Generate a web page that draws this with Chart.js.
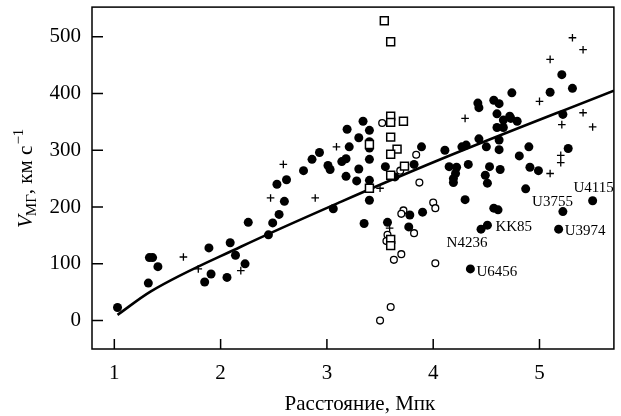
<!DOCTYPE html>
<html>
<head>
<meta charset="utf-8">
<script src="https://cdn.jsdelivr.net/npm/chart.js@4.4.1/dist/chart.umd.min.js"></script>
<style>
  html, body { margin: 0; padding: 0; background: #fff; }
  #wrap { width: 621px; height: 416px; }
</style>
</head>
<body>
<div id="wrap"><canvas id="chartCanvas"></canvas></div>
<script>
// Галактики: расстояние (Мпк) и скорость (км/с)
const xTicks = [1, 2, 3, 4, 5];
const yTicks = [0, 100, 200, 300, 400, 500];

const filled = [
  [1.03, 23], [1.32, 66], [1.33, 111], [1.36, 111], [1.41, 95], [1.85, 68], [1.89, 128],
  [1.91, 82], [2.06, 76], [2.09, 137], [2.14, 115], [2.23, 100], [2.26, 173],
  [2.45, 151], [2.49, 172], [2.55, 187], [2.60, 210], [2.53, 240], [2.62, 248],
  [2.78, 264], [2.86, 284], [2.93, 296], [3.01, 273], [3.03, 266], [3.06, 197],
  [3.14, 280], [3.18, 285], [3.19, 337], [3.21, 306], [3.18, 254], [3.28, 246],
  [3.30, 267], [3.30, 322], [3.34, 351], [3.35, 171],
  [3.40, 335], [3.40, 315], [3.40, 304], [3.40, 284], [3.40, 247], [3.40, 212],
  [3.55, 271], [3.64, 253], [3.57, 173], [3.77, 165], [3.78, 186], [3.82, 275],
  [3.89, 306], [3.90, 191],
  [4.11, 300], [4.15, 271], [4.22, 270], [4.21, 259], [4.19, 250], [4.19, 243],
  [4.27, 306], [4.31, 309], [4.33, 275], [4.30, 213], [4.42, 383], [4.43, 375],
  [4.43, 320], [4.50, 306], [4.53, 271], [4.49, 256], [4.51, 242], [4.57, 388],
  [4.62, 382], [4.60, 364], [4.66, 353], [4.72, 360], [4.73, 356], [4.60, 340],
  [4.66, 340], [4.79, 351], [4.62, 318], [4.62, 301], [4.63, 266], [4.74, 401],
  [4.81, 290], [4.90, 306], [4.91, 270], [4.99, 264], [4.87, 232], [4.57, 198],
  [4.61, 195], [5.10, 402], [5.21, 433], [5.31, 409], [5.22, 363], [5.27, 303]
];

// подписанные галактики
const namedNames = ['U4115', 'U3755', 'KK85', 'U3974', 'N4236', 'U6456'];
const namedPoints = [[5.50, 211], [5.22, 192], [4.51, 168], [5.18, 161], [4.45, 161], [4.35, 91]];

const crosses = [
  [1.65, 112], [1.79, 91], [2.19, 88], [2.47, 216], [2.59, 275], [2.89, 216],
  [3.09, 306], [3.50, 233], [3.59, 163], [4.30, 356], [5.00, 386], [5.10, 460],
  [5.31, 498], [5.41, 477], [5.21, 345], [5.41, 366], [5.50, 341], [5.20, 291],
  [5.20, 278], [5.10, 259]
];

const squares = [
  [3.54, 528], [3.60, 491], [3.60, 360], [3.60, 349], [3.72, 351], [3.60, 323],
  [3.40, 310], [3.66, 302], [3.60, 293], [3.73, 272], [3.60, 256], [3.40, 233],
  [3.60, 143], [3.60, 132]
];

const openCircles = [
  [3.52, 348], [3.84, 292], [3.69, 264], [3.87, 243], [3.72, 194], [3.70, 188],
  [3.82, 154], [4.00, 208], [4.02, 198], [3.57, 151], [3.56, 140], [3.70, 117],
  [3.63, 107], [4.02, 101], [3.60, 24], [3.50, 0]
];

// сглаженная зависимость
const fitCurve = [[1.03, 10], [1.34, 51], [2.19, 130], [3.13, 209], [4.07, 284], [5.70, 405]];

const toXY = arr => arr.map(p => ({ x: p[0], y: p[1] }));

const SERIF = '"Liberation Serif", "Times New Roman", serif';

// смещения подписей относительно точки: dx, dy, выравнивание
const labelPlacement = {
  U4115: [1, -9, 'center'],
  U3755: [10, -6, 'right'],
  KK85: [8, 6, 'left'],
  U3974: [6, 6, 'left'],
  N4236: [-14, 18, 'center'],
  U6456: [6, 7, 'left']
};

const decorPlugin = {
  id: 'decor',
  afterDraw(chart) {
    const { ctx, chartArea: a, scales } = chart;
    ctx.save();
    ctx.strokeStyle = '#000';
    ctx.lineWidth = 1.5;
    ctx.strokeRect(a.left, a.top, a.right - a.left, a.bottom - a.top);

    // засечки внутрь
    ctx.beginPath();
    xTicks.forEach(v => {
      const px = scales.x.getPixelForValue(v);
      ctx.moveTo(px, a.bottom);
      ctx.lineTo(px, a.bottom - 10);
    });
    yTicks.forEach(v => {
      const py = scales.y.getPixelForValue(v);
      ctx.moveTo(a.left, py);
      ctx.lineTo(a.left + 11, py);
    });
    ctx.stroke();

    // подписи галактик
    ctx.fillStyle = '#000';
    ctx.font = '15px ' + SERIF;
    ctx.textBaseline = 'alphabetic';
    namedNames.forEach((name, i) => {
      const [dx, dy, align] = labelPlacement[name];
      const px = scales.x.getPixelForValue(namedPoints[i][0]);
      const py = scales.y.getPixelForValue(namedPoints[i][1]);
      ctx.textAlign = align;
      ctx.fillText(name, px + dx, py + dy);
    });

    // подпись оси X
    ctx.font = '21px ' + SERIF;
    ctx.textAlign = 'center';
    ctx.fillText('Расстояние, Мпк', (a.left + a.right) / 2 + 7, 410);

    // подпись оси Y: V_МГ, км с^-1
    ctx.translate(32, 228);
    ctx.rotate(-Math.PI / 2);
    ctx.textAlign = 'left';
    let x = 0;
    ctx.font = 'italic 21px ' + SERIF;
    ctx.fillText('V', x, 0);
    x += ctx.measureText('V').width - 1;
    ctx.font = '15px ' + SERIF;
    ctx.fillText('МГ', x, 4);
    x += ctx.measureText('МГ').width;
    ctx.font = '21px ' + SERIF;
    ctx.fillText(', км с', x, 0);
    x += ctx.measureText(', км с').width + 1;
    ctx.font = '15px ' + SERIF;
    ctx.fillText('\u22121', x, -9);
    ctx.restore();
  }
};

const ctx = document.getElementById('chartCanvas').getContext('2d');
new Chart(ctx, {
  type: 'scatter',
  data: {
    datasets: [
      {
        label: 'squares',
        data: toXY(squares),
        pointStyle: 'rect',
        pointRadius: 5.6,
        backgroundColor: '#fff',
        borderColor: '#000',
        borderWidth: 1.5,
        order: 1
      },
      {
        label: 'open',
        data: toXY(openCircles),
        pointStyle: 'circle',
        pointRadius: 3.4,
        backgroundColor: '#fff',
        borderColor: '#000',
        borderWidth: 1.3,
        order: 2
      },
      {
        label: 'crosses',
        data: toXY(crosses),
        pointStyle: 'cross',
        pointRadius: 3.8,
        borderColor: '#000',
        borderWidth: 1.3,
        order: 3
      },
      {
        label: 'filled',
        data: toXY(filled.concat(namedPoints)),
        pointStyle: 'circle',
        pointRadius: 4.5,
        backgroundColor: '#000',
        borderColor: '#000',
        borderWidth: 0,
        order: 4
      },
      {
        label: 'fit',
        type: 'line',
        data: toXY(fitCurve),
        showLine: true,
        pointRadius: 0,
        borderColor: '#000',
        borderWidth: 2.6,
        cubicInterpolationMode: 'monotone',
        fill: false,
        order: 5
      }
    ]
  },
  options: {
    responsive: true,
    maintainAspectRatio: false,
    animation: false,
    events: [],
    layout: { padding: { top: 7, right: 7, left: 0, bottom: 0 } },
    plugins: {
      legend: { display: false },
      tooltip: { enabled: false }
    },
    scales: {
      x: {
        type: 'linear',
        min: 0.79,
        max: 5.7,
        afterBuildTicks: s => { s.ticks = xTicks.map(v => ({ value: v })); },
        afterFit: s => { s.height = 67; s.paddingLeft = 0; s.paddingRight = 0; },
        grid: { display: false, drawTicks: false },
        border: { display: false },
        ticks: {
          color: '#000',
          padding: 12,
          maxRotation: 0,
          font: { family: SERIF, size: 21 }
        }
      },
      y: {
        type: 'linear',
        min: -50,
        max: 552,
        afterBuildTicks: s => { s.ticks = yTicks.map(v => ({ value: v })); },
        afterFit: s => { s.width = 92; s.paddingTop = 0; s.paddingBottom = 0; },
        grid: { display: false, drawTicks: false },
        border: { display: false },
        ticks: {
          color: '#000',
          padding: 11,
          font: { family: SERIF, size: 21 }
        }
      }
    }
  },
  plugins: [decorPlugin]
});
</script>
</body>
</html>
